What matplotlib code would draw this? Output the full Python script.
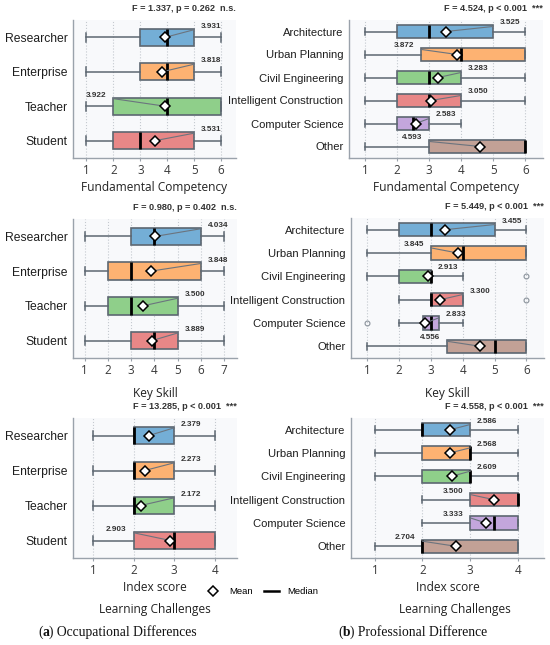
import matplotlib
matplotlib.use("Agg")
import matplotlib.pyplot as plt
from matplotlib.lines import Line2D

# ---------------- data ----------------
occ_groups = ['Researcher', 'Enterprise', 'Teacher', 'Student']
prof_groups = ['Architecture', 'Urban Planning', 'Civil Engineering',
               'Intelligent Construction', 'Computer Science', 'Other']

# five-number summaries: [whisker low, Q1, median, Q3, whisker high]
fc_occ_box = [[1, 3, 4, 5, 6], [1, 3, 4, 5, 6], [1, 2, 4, 6, 6], [1, 2, 3, 5, 6]]
fc_occ_mean = [3.931, 3.818, 3.922, 3.531]
fc_prof_box = [[1, 2, 3, 5, 6], [1, 2.75, 4, 6, 6], [1, 2, 3, 4, 6],
               [1, 2, 3, 4, 6], [1, 2, 2.5, 3, 4], [1, 3, 6, 6, 6]]
fc_prof_mean = [3.525, 3.872, 3.283, 3.050, 2.583, 4.593]

ks_occ_box = [[1, 3, 4, 6, 7], [1, 2, 3, 6, 7], [1, 2, 3, 5, 7], [1, 3, 4, 5, 7]]
ks_occ_mean = [4.034, 3.848, 3.500, 3.889]
ks_prof_box = [[1, 2, 3, 5, 6], [1, 3, 4, 6, 6], [1, 2, 3, 3, 4],
               [2, 3, 3, 4, 4], [2, 2.75, 3, 3.25, 4], [1, 3.5, 5, 6, 6]]
ks_prof_mean = [3.455, 3.845, 2.913, 3.300, 2.833, 4.556]
ks_prof_fliers = [[], [], [6], [6], [1], []]

lc_occ_box = [[1, 2, 2, 3, 4], [1, 2, 2, 3, 4], [1, 2, 2, 3, 4], [1, 2, 3, 4, 4]]
lc_occ_mean = [2.379, 2.273, 2.172, 2.903]
lc_prof_box = [[1, 2, 2, 3, 4], [1, 2, 3, 3, 4], [1, 2, 3, 3, 4],
               [2, 3, 4, 4, 4], [2, 3, 3.5, 4, 4], [1, 2, 2, 4, 4]]
lc_prof_mean = [2.586, 2.568, 2.609, 3.500, 3.333, 2.704]

f_texts = ['F = 1.337, p = 0.262  n.s.', 'F = 4.524, p < 0.001  ***',
           'F = 0.980, p = 0.402  n.s.', 'F = 5.449, p < 0.001  ***',
           'F = 13.285, p < 0.001  ***', 'F = 4.558, p < 0.001  ***']

colors = ['#74aed6', '#fdb272', '#8fcf8a', '#e88787', '#c3a6dc', '#c2a196']

# ---------------- figure ----------------
W, H = 550, 645
fig = plt.figure(figsize=(W / 100, H / 100), dpi=100)
fig.patch.set_facecolor('white')

GRAY = '#5d6771'
SANS = ['Liberation Sans', 'DejaVu Sans']
TICKF = ['Open Sans', 'DejaVu Sans']


def px_rect(x0, x1, y0, y1):
    return [x0 / W, 1 - y1 / H, (x1 - x0) / W, (y1 - y0) / H]


def panel(rect, groups, boxes, means, xmax, ftext, xlabel, labelpad,
          width, ylab_size, fliers=None):
    ax = fig.add_axes(px_rect(*rect))
    n = len(groups)
    stats = []
    for i, (b, m) in enumerate(zip(boxes, means)):
        stats.append(dict(whislo=b[0], q1=b[1], med=b[2], q3=b[3],
                          whishi=b[4], mean=m,
                          fliers=fliers[i] if fliers else [],
                          label=groups[i]))
    res = ax.bxp(stats, positions=list(range(n)), widths=width,
                 orientation='horizontal', patch_artist=True, showmeans=True,
                 boxprops=dict(edgecolor=GRAY, linewidth=1.2),
                 whiskerprops=dict(color=GRAY, linewidth=1.1),
                 capprops=dict(color=GRAY, linewidth=1.1),
                 medianprops=dict(color='black', linewidth=2.0),
                 meanprops=dict(marker='D', markerfacecolor='white',
                                markeredgecolor='black', markersize=5.5,
                                markeredgewidth=1.1),
                 flierprops=dict(marker='o', markerfacecolor='none',
                                 markeredgecolor='#8a929b', markersize=3.5,
                                 markeredgewidth=0.8))
    for patch, c in zip(res['boxes'], colors):
        patch.set_facecolor(c)
    for mline in res['means']:
        mline.set_zorder(6)

    # mean labels
    for i, (b, m) in enumerate(zip(boxes, means)):
        if b[3] < xmax:
            ex, dx, ha = b[3], 5, 'left'
        else:
            ex, dx, ha = b[1], -5, 'right'
        ey = i - 0.22
        ax.plot([m, ex], [i, ey], color='#6b747e', lw=0.8, zorder=5)
        ax.annotate(f'{m:.3f}', xy=(ex, ey), xytext=(dx, 2.5),
                    textcoords='offset points', ha=ha, va='center',
                    fontsize=5.9, fontweight='bold', color='#333333',
                    family=SANS, zorder=7)

    ax.set_xlim(0.5, xmax + 0.55)
    ax.set_ylim(n - 0.5, -0.5)
    ax.set_xticks(list(range(1, xmax + 1)))
    ax.set_yticks(list(range(n)))
    ax.set_yticklabels(groups, fontsize=ylab_size, family=SANS, color='#1e1e1e')
    for lab in ax.get_xticklabels():
        lab.set_fontsize(8.4)
        lab.set_family(TICKF)
        lab.set_color('#3a3a3a')
    ax.tick_params(axis='y', length=0, pad=4)
    ax.tick_params(axis='x', length=2.5, color='#9aa2ab', pad=2)
    ax.set_facecolor('#f8f9fb')
    ax.grid(axis='x', linestyle=':', color='#c4c9cf', linewidth=0.8)
    ax.set_axisbelow(True)
    for s in ['top', 'right']:
        ax.spines[s].set_visible(False)
    for s in ['left', 'bottom']:
        ax.spines[s].set_color('#9aa2ab')
        ax.spines[s].set_linewidth(1.0)
    ax.set_xlabel(xlabel, fontsize=8.6, family=TICKF, color='#222222',
                  labelpad=labelpad)
    ax.annotate(ftext, xy=(1, 1), xycoords='axes fraction', xytext=(0, 5),
                textcoords='offset points', ha='right', va='bottom',
                fontsize=6.6, fontweight='bold', color='#333333', family=SANS)
    return ax


panel((73, 236, 20, 158), occ_groups, fc_occ_box, fc_occ_mean, 6,
      f_texts[0], 'Fundamental Competency', 3, 0.5, 8.7)
panel((349, 543, 20, 158), prof_groups, fc_prof_box, fc_prof_mean, 6,
      f_texts[1], 'Fundamental Competency', 3, 0.58, 8.1)
panel((73, 237, 219, 358), occ_groups, ks_occ_box, ks_occ_mean, 7,
      f_texts[2], 'Key Skill', 7, 0.5, 8.7)
panel((351, 544, 218, 358), prof_groups, ks_prof_box, ks_prof_mean, 6,
      f_texts[3], 'Key Skill', 7, 0.58, 8.1, fliers=ks_prof_fliers)
panel((73, 237, 418, 558), occ_groups, lc_occ_box, lc_occ_mean, 4,
      f_texts[4], 'Index score', 3, 0.5, 8.7)
panel((351, 544, 418, 558), prof_groups, lc_prof_box, lc_prof_mean, 4,
      f_texts[5], 'Index score', 3, 0.58, 8.1)

# second-level titles
for xc in (155, 455):
    fig.text(xc / W, 1 - 609 / H, 'Learning Challenges', ha='center',
             va='center', fontsize=8.6, family=TICKF, color='#222222')

# legend
handles = [Line2D([], [], marker='D', linestyle='none', markerfacecolor='white',
                  markeredgecolor='black', markersize=5.5, markeredgewidth=1.1),
           Line2D([], [], color='black', linewidth=1.8)]
fig.legend(handles, ['Mean', 'Median'], loc='center',
           bbox_to_anchor=(262 / W, 1 - 592 / H), ncol=2, frameon=False,
           prop=dict(family=SANS, size=6.8), handlelength=1.6,
           handletextpad=0.9, columnspacing=1.2)


# captions
def caption(x_px, letter, rest):
    y = 1 - 632 / H
    kw = dict(fontsize=9.8, family=['Liberation Serif', 'DejaVu Serif'],
              color='#111111', va='center')
    t1 = fig.text(x_px / W, y, '(', ha='left', **kw)
    t2 = fig.text(0, 0, letter, fontweight='bold', **kw)
    fig.canvas.draw()
    r = fig.canvas.get_renderer()
    bb = t1.get_window_extent(r)
    t2.set_position((bb.x1 / W, y))
    bb2 = t2.get_window_extent(r)
    fig.text(bb2.x1 / W, y, ') ' + rest, ha='left', **kw)


caption(38, 'a', 'Occupational Differences')
caption(338, 'b', 'Professional Difference')

fig.savefig('out.png', dpi=100, facecolor='white')
